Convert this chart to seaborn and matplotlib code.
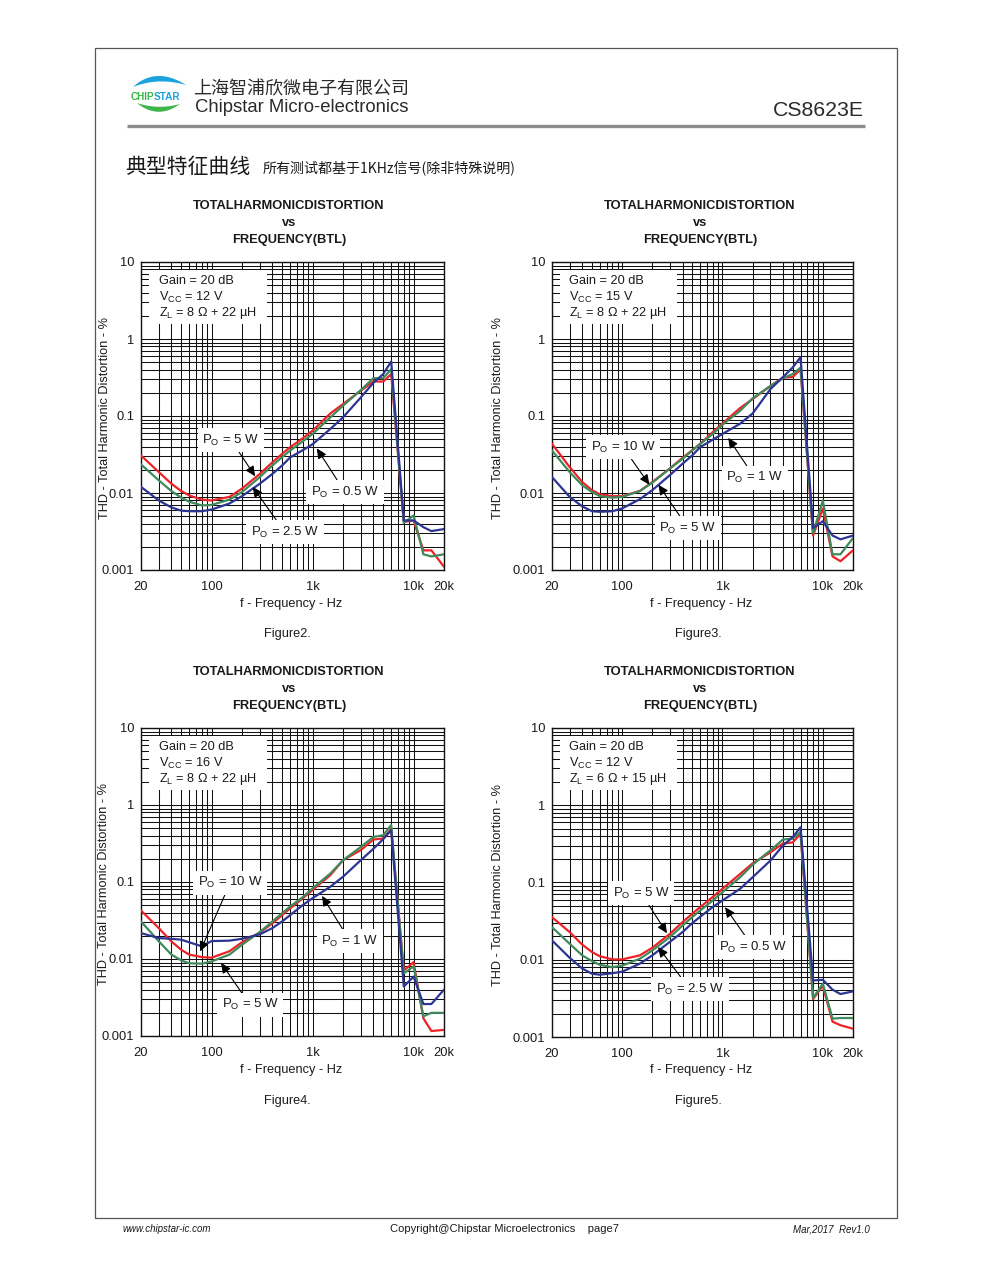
import numpy as np
import pandas as pd
import matplotlib
matplotlib.use('Agg')
import matplotlib.pyplot as plt
import seaborn as sns
from matplotlib.ticker import FixedLocator, FixedFormatter, LogLocator, NullFormatter
from matplotlib.patches import Rectangle, Polygon

# ---------------- data ----------------
freqs = [20, 30, 40, 50, 60, 80, 100, 150, 200, 300, 400, 500, 600, 800,
         1000, 1500, 2000, 3000, 4000, 5000, 6000, 8000, 10000, 12500, 15000, 20000]

x_ticks = [20, 100, 1000, 10000, 20000]
x_tick_labels = ['20', '100', '1k', '10k', '20k']
y_ticks = [0.001, 0.01, 0.1, 1, 10]
y_tick_labels = ['0.001', '0.01', '0.1', '1', '10']

# Figure 2 : VCC = 12 V, 8 ohm
f2_5w = [0.0307, 0.0187, 0.0132, 0.0106, 0.0093, 0.0082, 0.0080, 0.0089, 0.0114, 0.0177, 0.025, 0.0323, 0.0394,
         0.0514, 0.0645, 0.108, 0.143, 0.213, 0.281, 0.28, 0.35, 0.0042, 0.0044, 0.0018, 0.0018, 0.0011]
f2_2p5w = [0.0235, 0.0146, 0.0106, 0.0087, 0.0077, 0.0069, 0.0070, 0.0082, 0.0103, 0.0161, 0.0228, 0.0292, 0.0357,
           0.0469, 0.0585, 0.096, 0.136, 0.217, 0.31, 0.31, 0.405, 0.0041, 0.0051, 0.0016, 0.0015, 0.0016]
f2_0p5w = [0.012, 0.0080, 0.0065, 0.0059, 0.0058, 0.0058, 0.0061, 0.0073, 0.0091, 0.0132, 0.0177, 0.0228, 0.029,
           0.036, 0.043, 0.068, 0.096, 0.174, 0.27, 0.35, 0.51, 0.0044, 0.0044, 0.0036, 0.0032, 0.0034]

# Figure 3 : VCC = 15 V, 8 ohm
f3_10w = [0.0434, 0.0217, 0.0139, 0.0109, 0.0096, 0.0091, 0.0091, 0.0106, 0.0139, 0.0209, 0.0286, 0.036, 0.0435,
          0.0617, 0.080, 0.127, 0.166, 0.245, 0.315, 0.32, 0.405, 0.0028, 0.0063, 0.0015, 0.0013, 0.0018]
f3_5w = [0.0356, 0.0187, 0.0126, 0.0103, 0.0091, 0.0087, 0.0089, 0.0106, 0.0136, 0.0209, 0.0277, 0.0356, 0.0434,
         0.0585, 0.077, 0.117, 0.17, 0.245, 0.31, 0.35, 0.425, 0.0030, 0.0080, 0.0016, 0.0016, 0.0026]
f3_1w = [0.0161, 0.0089, 0.0067, 0.0058, 0.0057, 0.0058, 0.0063, 0.0083, 0.0109, 0.0171, 0.0240, 0.0308, 0.0394,
         0.0492, 0.0585, 0.0795, 0.108, 0.223, 0.32, 0.425, 0.58, 0.0035, 0.0043, 0.0028, 0.0025, 0.0028]

# Figure 4 : VCC = 16 V, 8 ohm
f4_10w = [0.0426, 0.0252, 0.0169, 0.0132, 0.0114, 0.0106, 0.0104, 0.0126, 0.0165, 0.0221, 0.029, 0.0372, 0.0455,
          0.0615, 0.0787, 0.123, 0.192, 0.26, 0.356, 0.367, 0.49, 0.0071, 0.0091, 0.0017, 0.00116, 0.0012]
f4_5w = [0.0307, 0.0170, 0.0114, 0.0096, 0.0088, 0.0087, 0.0093, 0.0114, 0.0153, 0.0224, 0.0307, 0.0394, 0.0482,
         0.0636, 0.0830, 0.129, 0.192, 0.285, 0.385, 0.405, 0.55, 0.0065, 0.0080, 0.0018, 0.0020, 0.0020]
f4_1w = [0.0217, 0.0187, 0.0183, 0.0178, 0.0165, 0.0146, 0.0171, 0.0173, 0.0183, 0.0209, 0.0252, 0.0308, 0.0372,
         0.0502, 0.0617, 0.0870, 0.117, 0.192, 0.27, 0.36, 0.47, 0.0044, 0.0059, 0.0026, 0.0026, 0.0040]

# Figure 5 : VCC = 12 V, 6 ohm
f5_5w = [0.0356, 0.0228, 0.0157, 0.0126, 0.0111, 0.0101, 0.0101, 0.0114, 0.0143, 0.0217, 0.0307, 0.0394, 0.0482,
         0.065, 0.083, 0.129, 0.177, 0.245, 0.32, 0.33, 0.425, 0.0031, 0.0046, 0.00158, 0.00142, 0.00128]
f5_2p5w = [0.0264, 0.0161, 0.0114, 0.0096, 0.0086, 0.0080, 0.0084, 0.0103, 0.0132, 0.0197, 0.0277, 0.0356, 0.0434,
           0.0585, 0.075, 0.117, 0.17, 0.26, 0.36, 0.37, 0.45, 0.0032, 0.0049, 0.00173, 0.00176, 0.00176]
f5_0p5w = [0.0178, 0.0106, 0.0077, 0.0066, 0.0064, 0.0067, 0.0070, 0.0089, 0.0114, 0.0171, 0.0228, 0.0298, 0.036,
           0.0482, 0.0585, 0.083, 0.117, 0.192, 0.30, 0.385, 0.52, 0.0054, 0.0055, 0.0041, 0.0036, 0.0039]

line_colors = ['#ec2227', '#3f8a5c', '#2c3592']

# ---------------- style ----------------
sns.set_theme(style='white')
plt.rcParams['font.family'] = ['Liberation Sans', 'Noto Sans CJK SC', 'DejaVu Sans']
plt.rcParams['mathtext.fontset'] = 'custom'
plt.rcParams['mathtext.rm'] = 'Liberation Sans'
plt.rcParams['mathtext.it'] = 'Liberation Sans:italic'
plt.rcParams['mathtext.bf'] = 'Liberation Sans:bold'
plt.rcParams['text.color'] = '#1a1a1a'

W, H = 991, 1269
fig = plt.figure(figsize=(W / 100, H / 100), dpi=100)
fig.patch.set_facecolor('white')

page = fig.add_axes([0, 0, 1, 1], zorder=-5)
page.set_xlim(0, W)
page.set_ylim(H, 0)
page.axis('off')

# page border and header
page.add_patch(Rectangle((95, 48), 802, 1170, fill=False, ec='#555555', lw=0.9))
page.plot([127, 865], [126, 126], color='#8c8c8c', lw=2.4, solid_capstyle='butt')


def crescent(p0, c_out, c_in, p2, color):
    t = np.linspace(0, 1, 40)[:, None]
    p0, c_out, c_in, p2 = map(np.array, (p0, c_out, c_in, p2))
    outer = (1 - t) ** 2 * p0 + 2 * (1 - t) * t * c_out + t ** 2 * p2
    inner = (1 - t) ** 2 * p2 + 2 * (1 - t) * t * c_in + t ** 2 * p0
    page.add_patch(Polygon(np.vstack([outer, inner]), closed=True, fc=color, ec='none'))


crescent((133, 87), (156, 66), (158, 77), (186, 85), '#1aa3dd')
crescent((137, 103), (158, 120), (158, 110), (180, 104), '#3cb54a')
page.text(131, 97.5, 'CHIP', fontsize=7.2, fontweight='bold', color='#3cb54a', va='center', ha='left')
page.text(153.5, 97.5, 'STAR', fontsize=7.2, fontweight='bold', color='#1aa3dd', va='center', ha='left')

page.text(193, 89, '上海智浦欣微电子有限公司', fontsize=13, va='center', ha='left',
          family=['Noto Sans CJK SC', 'DejaVu Sans'], color='#2a2a2a')
page.text(195, 107, 'Chipstar Micro-electronics', fontsize=13.3, va='center', ha='left', color='#2a2a2a')
page.text(864, 111, 'CS8623E', fontsize=15.3, va='center', ha='right', color='#2a2a2a')

page.text(125, 167, '典型特征曲线', fontsize=15, va='center', ha='left',
          family=['Noto Sans CJK SC', 'DejaVu Sans'])
page.text(263, 169, '所有测试都基于1KHz信号(除非特殊说明)', fontsize=10.1, va='center', ha='left',
          family=['Noto Sans CJK SC', 'DejaVu Sans'])

# footer
page.text(123, 1229, 'www.chipstar-ic.com', fontsize=7, style='italic', va='center', ha='left')
page.text(390, 1229, 'Copyright@Chipstar Microelectronics    page7', fontsize=8, va='center', ha='left')
page.text(870, 1230, 'Mar,2017  Rev1.0', fontsize=7, style='italic', va='center', ha='right')


def P(txt):
    return r'P$_{\mathrm{O}}$ = ' + txt


panels = [
    dict(box=(141, 262, 444, 570), cx=289, ty=206, cap='Figure2.', capx=287, capy=634, xlx=291, xly=604, ylx=105,
         info=['Gain = 20 dB', r'V$_{\mathrm{CC}}$ = 12 V', r'Z$_{\mathrm{L}}$ = 8 Ω + 22 µH'],
         series=[f2_5w, f2_2p5w, f2_0p5w], labels=['5 W', '2.5 W', '0.5 W'],
         ann=[('5 W', (0.297, 0.422), (270, 0.0165)),
              ('0.5 W', (0.673, 0.253), (1100, 0.038)),
              ('2.5 W', (0.475, 0.123), (255, 0.012))]),
    dict(box=(552, 262, 853, 570), cx=700, ty=206, cap='Figure3.', capx=698, capy=634, xlx=701, xly=604, ylx=498,
         info=['Gain = 20 dB', r'V$_{\mathrm{CC}}$ = 15 V', r'Z$_{\mathrm{L}}$ = 8 Ω + 22 µH'],
         series=[f3_10w, f3_5w, f3_1w], labels=['10 W', '5 W', '1 W'],
         ann=[('10 W', (0.236, 0.399), (187, 0.0128)),
              ('1 W', (0.674, 0.299), (1140, 0.052)),
              ('5 W', (0.452, 0.136), (230, 0.0128))]),
    dict(box=(141, 728, 444, 1036), cx=289, ty=672, cap='Figure4.', capx=287, capy=1101, xlx=291, xly=1070, ylx=104,
         info=['Gain = 20 dB', r'V$_{\mathrm{CC}}$ = 16 V', r'Z$_{\mathrm{L}}$ = 8 Ω + 22 µH'],
         series=[f4_10w, f4_5w, f4_1w], labels=['10 W', '5 W', '1 W'],
         ann=[('10 W', (0.294, 0.497), (77, 0.0125)),
              ('1 W', (0.690, 0.308), (1240, 0.066)),
              ('5 W', (0.360, 0.101), (124, 0.0089))]),
    dict(box=(552, 728, 853, 1037), cx=700, ty=672, cap='Figure5.', capx=698, capy=1101, xlx=701, xly=1070, ylx=498,
         info=['Gain = 20 dB', r'V$_{\mathrm{CC}}$ = 12 V', r'Z$_{\mathrm{L}}$ = 6 Ω + 15 µH'],
         series=[f5_5w, f5_2p5w, f5_0p5w], labels=['5 W', '2.5 W', '0.5 W'],
         ann=[('5 W', (0.296, 0.466), (280, 0.022)),
              ('0.5 W', (0.668, 0.291), (1060, 0.048)),
              ('2.5 W', (0.458, 0.155), (228, 0.0146))]),
]

for pnl in panels:
    l, t, r, b = pnl['box']
    ax = fig.add_axes([l / W, 1 - b / H, (r - l) / W, (b - t) / H])
    ax.set_xscale('log')
    ax.set_yscale('log')

    df = pd.DataFrame({
        'f': freqs * 3,
        'thd': pnl['series'][0] + pnl['series'][1] + pnl['series'][2],
        'Po': sum([[lab] * len(freqs) for lab in pnl['labels']], []),
    })
    sns.lineplot(data=df, x='f', y='thd', hue='Po', hue_order=pnl['labels'], palette=line_colors,
                 estimator=None, linewidth=1.6, legend=False, ax=ax, zorder=3)

    ax.set_xlim(20, 20000)
    ax.set_ylim(0.001, 10)
    ax.xaxis.set_major_locator(FixedLocator(x_ticks))
    ax.xaxis.set_major_formatter(FixedFormatter(x_tick_labels))
    ax.xaxis.set_minor_locator(LogLocator(base=10, subs=np.arange(1, 10), numticks=30))
    ax.xaxis.set_minor_formatter(NullFormatter())
    ax.yaxis.set_major_locator(FixedLocator(y_ticks))
    ax.yaxis.set_major_formatter(FixedFormatter(y_tick_labels))
    ax.yaxis.set_minor_locator(LogLocator(base=10, subs=np.arange(2, 10), numticks=30))
    ax.yaxis.set_minor_formatter(NullFormatter())
    ax.set_axisbelow(True)
    ax.grid(which='both', color='#111111', lw=0.75)
    ax.tick_params(which='both', length=0, labelsize=9.3, colors='#1a1a1a')
    ax.tick_params(axis='x', pad=8)
    ax.tick_params(axis='y', pad=5)
    ax.set_xlabel('')
    ax.set_ylabel('')
    for s in ax.spines.values():
        s.set_color('#111111')
        s.set_linewidth(1.0)

    # info box
    ax.add_patch(Rectangle((0.028, 0.80), 0.388, 0.175, transform=ax.transAxes,
                           fc='white', ec='none', zorder=1.5))
    for i, line in enumerate(pnl['info']):
        ax.text(0.058, 0.938 - i * 0.052, line, transform=ax.transAxes, fontsize=9.2,
                va='center', ha='left', zorder=4)

    # annotations
    for txt, pos, tip in pnl['ann']:
        ax.annotate(P(txt), xy=tip, xycoords='data', xytext=pos, textcoords='axes fraction',
                    ha='center', va='center', fontsize=9.5, zorder=6,
                    bbox=dict(boxstyle='square,pad=0.35', fc='white', ec='none'),
                    arrowprops=dict(arrowstyle='-|>,head_length=0.6,head_width=0.28', color='black',
                                    lw=0.8, mutation_scale=10, shrinkA=0, shrinkB=0))

    # titles and labels
    for k, line in enumerate(['TOTALHARMONICDISTORTION', 'vs', 'FREQUENCY(BTL)']):
        page.text(pnl['cx'], pnl['ty'] + 17 * k, line, fontsize=9.3, fontweight='bold',
                  ha='center', va='center')
    page.text(pnl['xlx'], pnl['xly'], 'f - Frequency - Hz', fontsize=9.2, ha='center', va='center')
    page.text(pnl['ylx'], (t + b) / 2 + 2, 'THD - Total Harmonic Distortion - %', fontsize=9.2,
              ha='center', va='center', rotation=90)
    page.text(pnl['capx'], pnl['capy'], pnl['cap'], fontsize=9.2, ha='center', va='center')

fig.savefig('out.png', dpi=100, facecolor='white')
